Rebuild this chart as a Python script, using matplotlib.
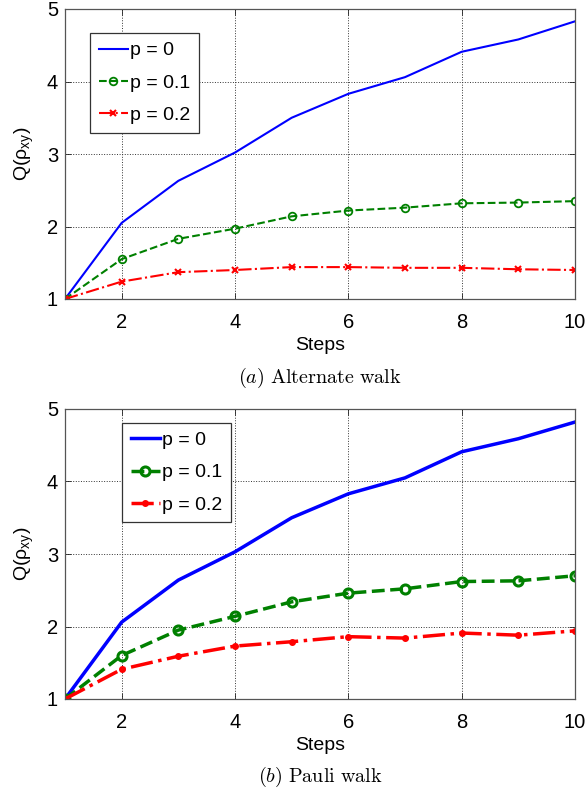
import matplotlib
matplotlib.use("Agg")
import matplotlib.pyplot as plt
import numpy as np

plt.rcParams["font.family"] = ["Liberation Sans", "DejaVu Sans"]
plt.rcParams["mathtext.fontset"] = "custom"
plt.rcParams["mathtext.rm"] = "Liberation Sans"
plt.rcParams["mathtext.it"] = "Liberation Sans:italic"

steps = [1, 2, 3, 4, 5, 6, 7, 8, 9, 10]

# (a) Alternate walk
alt_p0 = [1.00, 2.05, 2.63, 3.02, 3.50, 3.83, 4.06, 4.41, 4.58, 4.83]
alt_p01 = [1.00, 1.55, 1.83, 1.97, 2.14, 2.22, 2.26, 2.32, 2.33, 2.35]
alt_p02 = [1.00, 1.24, 1.37, 1.40, 1.44, 1.44, 1.43, 1.43, 1.41, 1.40]

# (b) Pauli walk
pauli_p0 = [1.00, 2.06, 2.64, 3.03, 3.50, 3.83, 4.05, 4.41, 4.59, 4.82]
pauli_p01 = [1.00, 1.60, 1.95, 2.14, 2.34, 2.46, 2.52, 2.62, 2.63, 2.70]
pauli_p02 = [1.00, 1.41, 1.59, 1.73, 1.79, 1.86, 1.84, 1.91, 1.88, 1.94]

labels = ["p = 0", "p = 0.1", "p = 0.2"]
captions = [r"$(a)\ \mathrm{Alternate\ walk}$", r"$(b)\ \mathrm{Pauli\ walk}$"]

W, H = 587, 796
fig = plt.figure(figsize=(W / 100, H / 100), dpi=100)

# axes boxes in pixels: (left, top, right, bottom)
boxes = [(65, 9, 575, 299), (65, 409, 575, 699)]
legend_anchor = [(0.049, 0.917), (0.112, 0.952)]
caption_y = [378, 777]


def style_axes(ax):
    ax.set_xlim(1, 10)
    ax.set_ylim(1, 5)
    ax.set_xticks([2, 4, 6, 8, 10])
    ax.set_yticks([1, 2, 3, 4, 5])
    ax.tick_params(direction="in", length=4, width=0.6, top=True, right=True,
                   labelsize=14.5, colors="#222222", labelcolor="black")
    ax.tick_params(axis="x", pad=10)
    ax.tick_params(axis="y", pad=5)
    ax.grid(True, linestyle=":", color="#333333", linewidth=0.7)
    for s in ax.spines.values():
        s.set_color("#555555")
        s.set_linewidth(0.9)
    ax.set_xlabel("Steps", fontsize=14, labelpad=4)
    ax.set_ylabel(r"Q(ρ$_{\mathrm{xy}}$)", fontsize=14, labelpad=8)


for i, (l, t, r, b) in enumerate(boxes):
    ax = fig.add_axes([l / W, 1 - b / H, (r - l) / W, (b - t) / H])
    if i == 0:
        ax.plot(steps, alt_p0, "-", color="#0000ff", lw=1.5, label=labels[0])
        ax.plot(steps, alt_p01, "--", color="#008000", lw=1.5, marker="o",
                ms=5.5, mfc="none", mew=1.3, label=labels[1])
        ax.plot(steps, alt_p02, "-.", color="#ff0000", lw=1.5, marker="x",
                ms=4, mew=1.5, label=labels[2])
    else:
        ax.plot(steps, pauli_p0, "-", color="#0000ff", lw=2.5, label=labels[0])
        ax.plot(steps, pauli_p01, "--", color="#008000", lw=2.5, marker="o",
                ms=6.5, mfc="none", mew=2.2, label=labels[1])
        ax.plot(steps, pauli_p02, "-.", color="#ff0000", lw=2.5, marker="o",
                ms=4, label=labels[2])
    style_axes(ax)
    leg = ax.legend(loc="upper left", bbox_to_anchor=legend_anchor[i],
                    fontsize=14, fancybox=False, framealpha=1,
                    edgecolor="#333333", handlelength=1.5, handletextpad=0.1,
                    labelspacing=0.75, borderpad=0.45, borderaxespad=0)
    leg.get_frame().set_linewidth(0.9)
    fig.text((l + r) / 2 / W, 1 - caption_y[i] / H, captions[i],
             ha="center", va="center", fontsize=14.5, math_fontfamily="cm")

fig.savefig("out.png", dpi=100)
